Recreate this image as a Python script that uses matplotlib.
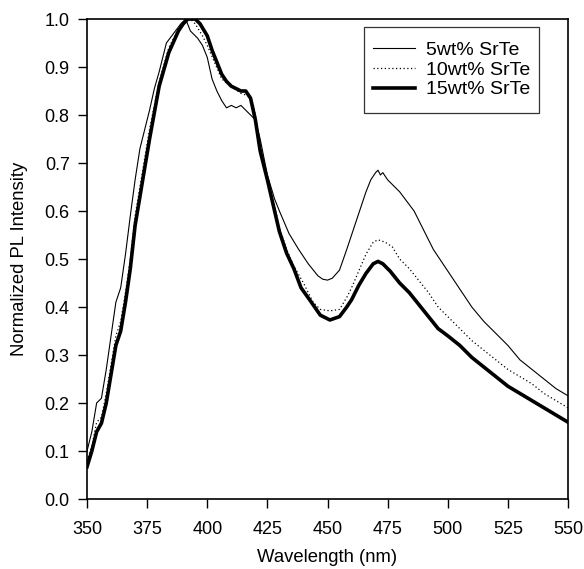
import numpy as np
import matplotlib.pyplot as plt
from matplotlib.path import Path

# wavelength [nm] / normalized PL intensity
wl_5 = [350, 352, 354, 356, 358, 360, 362, 364, 366, 368, 370, 372, 374, 376, 378, 380,
        383, 386, 389, 391, 393, 396, 398, 400, 402, 404, 406, 408, 410, 412, 414,
        416, 418, 420, 422, 425, 428, 430, 434, 438, 442, 446, 448, 450, 452,
        455, 458, 460, 462, 464, 466, 468, 470, 471, 472, 473, 475, 478, 480,
        483, 486, 490, 494, 498, 502, 506, 510, 515, 520, 525, 530, 535, 540, 545, 550]
pl_5 = [0.10, 0.14, 0.20, 0.21, 0.27, 0.34, 0.41, 0.44, 0.51, 0.59, 0.665, 0.73, 0.77, 0.81, 0.855, 0.89,
        0.95, 0.97, 0.99, 1.00, 0.975, 0.96, 0.945, 0.92, 0.875, 0.85, 0.83, 0.815, 0.82, 0.815, 0.82,
        0.81, 0.80, 0.79, 0.75, 0.675, 0.625, 0.60, 0.553, 0.52, 0.49, 0.465, 0.458, 0.456, 0.46,
        0.477, 0.52, 0.55, 0.58, 0.61, 0.64, 0.665, 0.68, 0.685, 0.675, 0.68, 0.665, 0.65, 0.64,
        0.62, 0.60, 0.56, 0.52, 0.49, 0.46, 0.43, 0.40, 0.37, 0.345, 0.32, 0.29, 0.27, 0.25, 0.23, 0.215]

wl_10 = [350, 352, 354, 356, 358, 360, 362, 364, 366, 368, 370, 372, 376, 380, 384,
         388, 391, 393, 395, 398, 400, 403, 406, 410, 414, 417, 419, 420, 422, 425,
         428, 430, 433, 436, 440, 444, 447, 451, 455, 458, 460, 463, 466, 469, 471,
         474, 477, 480, 484, 488, 492, 496, 500, 505, 510, 515, 520, 525, 530, 535,
         540, 545, 550]
pl_10 = [0.08, 0.11, 0.16, 0.17, 0.22, 0.28, 0.34, 0.37, 0.43, 0.50, 0.59, 0.65, 0.77, 0.87, 0.94,
         0.98, 0.995, 1.00, 0.99, 0.965, 0.945, 0.91, 0.875, 0.86, 0.845, 0.84, 0.825, 0.80, 0.735, 0.67,
         0.61, 0.565, 0.52, 0.485, 0.45, 0.41, 0.395, 0.392, 0.395, 0.42, 0.44, 0.475, 0.51, 0.535, 0.54,
         0.535, 0.525, 0.50, 0.48, 0.455, 0.43, 0.40, 0.38, 0.355, 0.33, 0.31, 0.29, 0.27, 0.255, 0.24,
         0.22, 0.205, 0.19]

wl_15 = [350, 352, 354, 356, 358, 360, 362, 364, 366, 368, 370, 372, 376, 380, 384,
         388, 390, 392, 395, 397, 400, 402, 404, 406, 408, 410, 412, 414, 416, 418,
         420, 422, 425, 428, 430, 433, 436, 439, 443, 447, 451, 455, 458,
         460, 463, 466, 469, 471, 473, 476, 480, 484, 488, 492, 496, 500, 505, 510,
         515, 520, 525, 530, 535, 540, 545, 550]
pl_15 = [0.067, 0.10, 0.14, 0.158, 0.20, 0.26, 0.32, 0.35, 0.41, 0.48, 0.57, 0.63, 0.75, 0.86, 0.93,
         0.975, 0.99, 1.00, 1.00, 0.99, 0.965, 0.935, 0.91, 0.885, 0.87, 0.86, 0.855, 0.85, 0.85, 0.835,
         0.79, 0.725, 0.665, 0.60, 0.557, 0.512, 0.48, 0.44, 0.412, 0.383, 0.373, 0.38, 0.40,
         0.415, 0.445, 0.47, 0.49, 0.495, 0.49, 0.475, 0.45, 0.43, 0.405, 0.38, 0.355, 0.34, 0.32, 0.295,
         0.275, 0.255, 0.235, 0.22, 0.205, 0.19, 0.175, 0.16]

plt.rcParams["font.family"] = ["Liberation Sans", "DejaVu Sans"]
plt.rcParams["font.size"] = 13

fig = plt.figure(figsize=(5.84, 5.69), dpi=100)
ax = fig.add_axes([0.149, 0.123, 0.8236, 0.8436])

ax.plot(wl_5, pl_5, color="black", lw=0.8, label="5wt% SrTe")
ax.plot(wl_10, pl_10, color="black", lw=0.9, ls=(0, (1, 2)), label="10wt% SrTe")
ax.plot(wl_15, pl_15, color="black", lw=2.6, label="15wt% SrTe")

ax.set_xlim(350, 550)
ax.set_ylim(0, 1.0)
ax.set_xticks(np.arange(350, 551, 25))
ax.set_yticks(np.arange(0, 1.01, 0.1))
ax.yaxis.set_major_formatter(plt.FormatStrFormatter("%.1f"))
ax.tick_params(direction="out", length=6.5, width=1, colors="black")
ax.tick_params(axis="x", pad=9)
ax.tick_params(axis="y", pad=6)
for s in ax.spines.values():
    s.set_linewidth(1.2)

ax.set_xlabel("Wavelength (nm)", fontsize=13.3, labelpad=8)
ax.set_ylabel("Normalized PL Intensity", fontsize=13.3, labelpad=12)


# legend frame: taller than wide padding, like the original box
def tall_box(x0, y0, width, height, mutation_size):
    p = 6
    return Path([(x0, y0 - p), (x0 + width, y0 - p), (x0 + width, y0 + height + p),
                 (x0, y0 + height + p), (x0, y0 - p)], closed=True)


leg = ax.legend(loc="upper right", bbox_to_anchor=(0.9397, 0.971), borderaxespad=0,
                frameon=True, fancybox=False, edgecolor="black", handlelength=2.2,
                handletextpad=0.55, labelspacing=0.1, borderpad=0.45, fontsize=14)
leg.get_frame().set_boxstyle(tall_box)
leg.get_frame().set_linewidth(0.9)

fig.savefig("out.png", dpi=100)
